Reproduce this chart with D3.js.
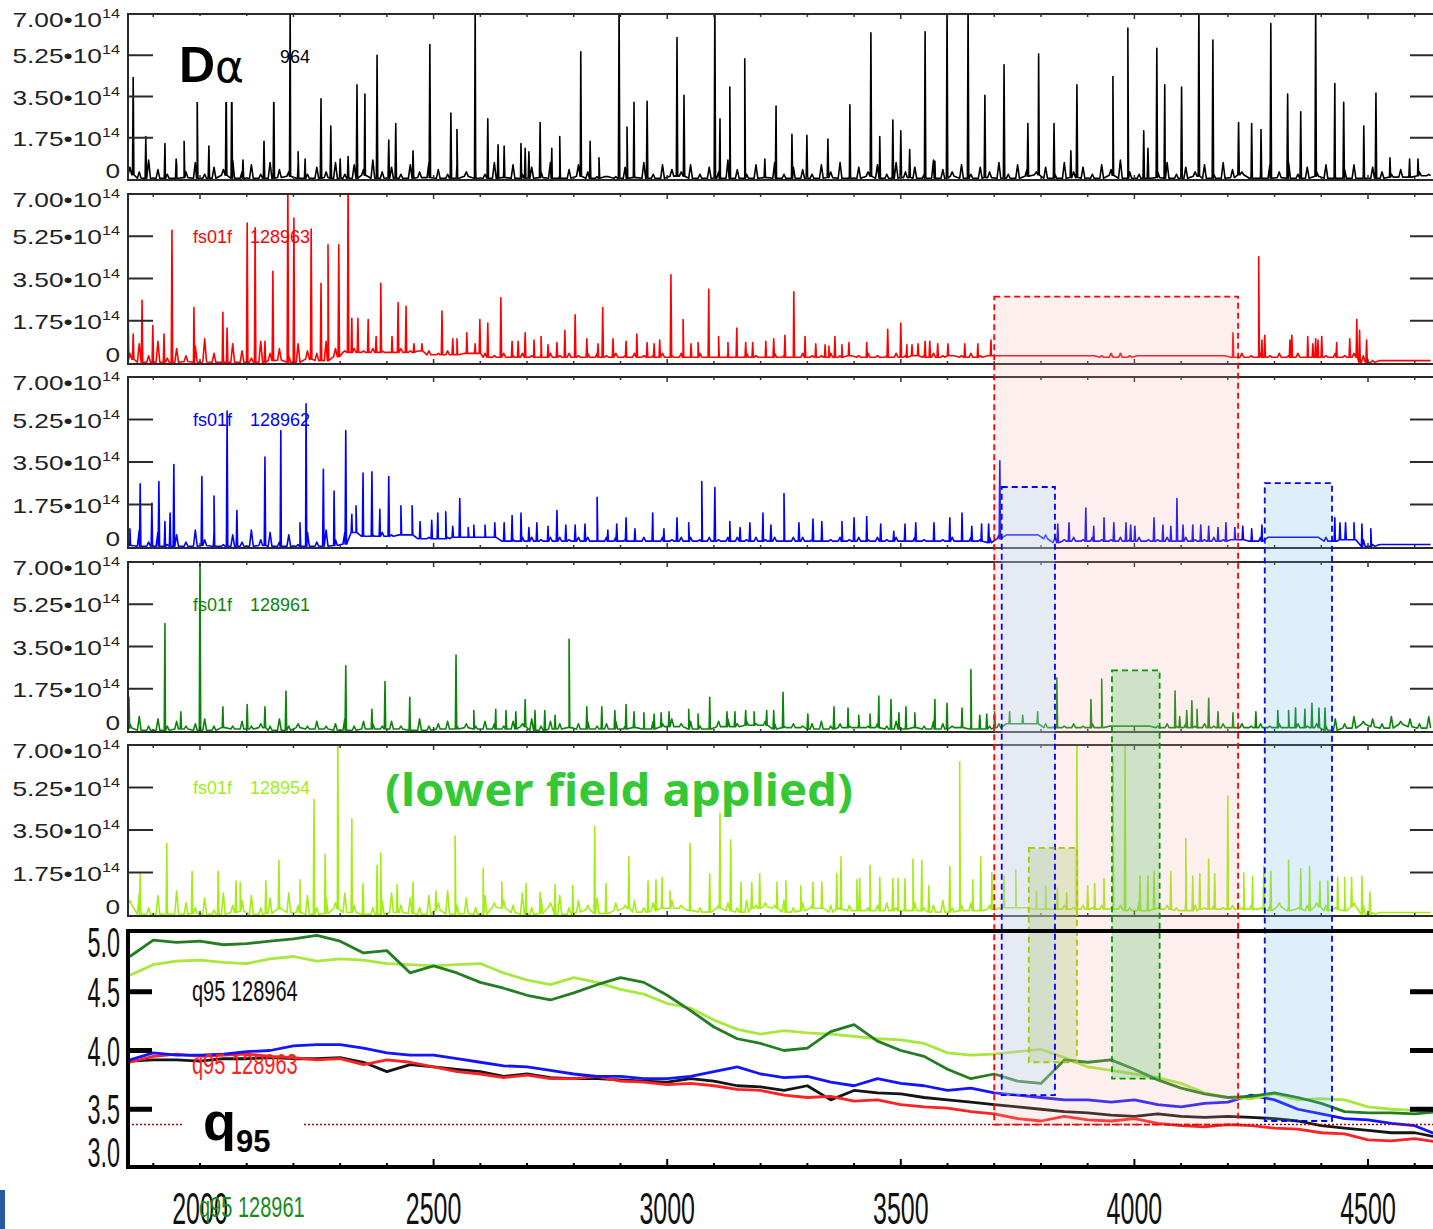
<!DOCTYPE html>
<html>
<head>
<meta charset="utf-8">
<script src="https://cdn.jsdelivr.net/npm/d3@7/dist/d3.min.js"></script>
<style>
body { margin: 0; background: #fff; }
svg { display: block; }
</style>
</head>
<body>
<svg id="chart" width="1433" height="1229"></svg>
<script>
// ---- data ----
// noise floor, tenths of 1e14, one value every 20 ms from 1850 ms
var noiseStart = 1850, noiseStep = 20;
var noiseBlack = [5,3,8,4,2,6,3,7,2,5,4,8,3,6,2,7,4,3,6,2,
                  5,3,7,2,6,4,8,3,5,2,6,3,7,4,2,6,3,5,2,7,
                  3,6,2,5,3,7,2,4,6,3,1,1,1,5,3,7,2,6,4,3,
                  6,2,5,3,8,4,2,6,3,7,2,5,4,2,6,3,7,2,5,3,
                  6,2,7,3,5,2,8,4,3,6,2,5,3,7,2,6,4,3,5,2,
                  7,3,5,2,6,4,8,3,2,6,3,7,2,5,3,6,2,7,4,3,
                  5,2,6,3,7,2,5,3,6,2,4,6,2,5,3,2,4,2,3,2];
var noiseRed = [4,8,3,9,2,6,3,7,10,4,3,8,5,2,9,4,6,3,8,5,
                4,9,6,5,6,5,6,5,5,6,5,5,5,4,5,4,4,4,4,3,
                4,3,4,3,4,4,3,4,3,4,4,3,4,3,4,3,3,4,3,4,
                3,4,3,3,4,3,4,3,3,4,3,3,4,3,3,4,3,3,3,4,
                3,3,4,3,3,3,4,3,3,3,4,3,3,3,3,3,3,3,3,3,
                3,3,3,3,3,4,4,3,3,3,3,3,3,3,3,3,3,3,3,4,
                3,4,3,4,3,4,3,4,3,4,3,4,3,1,1,1,1,1,1,1];
var noiseBlue = [3,7,2,6,1,5,2,7,3,6,1,5,2,7,3,6,2,5,1,6,
                 2,7,3,6,6,6,5,6,5,5,5,5,4,5,4,4,4,4,4,4,
                 4,3,4,4,3,4,4,3,4,4,3,4,4,3,4,4,3,4,3,4,
                 4,3,4,3,4,4,3,4,3,4,3,4,4,3,4,3,4,3,4,3,
                 4,3,4,3,4,3,4,3,4,3,4,3,4,5,5,5,5,5,5,4,
                 3,4,3,4,3,3,4,3,4,3,3,4,3,4,3,3,4,3,3,3,
                 3,4,4,4,4,4,4,4,4,3,3,3,3,1,1,1,1,1,1,1];
var noiseGreen = [3,6,2,5,2,4,2,3,5,2,3,2,4,2,3,2,5,2,3,2,
                  4,2,3,5,2,4,3,2,4,2,3,5,2,3,4,2,3,2,4,3,
                  2,4,3,5,2,4,3,2,3,4,2,3,4,2,3,2,4,3,5,3,
                  4,2,3,4,5,3,4,3,4,3,2,3,2,3,4,2,3,2,3,2,
                  3,2,4,2,3,2,4,3,2,3,2,4,2,3,3,3,3,3,3,2,
                  2,3,2,3,2,2,2,2,2,2,2,3,2,3,2,3,2,3,2,3,
                  2,3,2,3,2,3,2,3,2,5,3,6,4,5,3,6,4,5,3,6];
var noiseLime = [6,9,3,8,4,10,5,3,7,2,9,4,6,8,3,7,5,9,4,8,
                 3,7,5,9,4,8,3,6,9,4,7,3,8,5,10,4,7,3,8,5,
                 6,4,9,3,7,5,8,3,6,4,7,3,5,4,6,3,5,4,6,4,
                 5,3,6,4,5,3,6,4,5,4,6,3,5,4,6,4,3,4,5,3,
                 4,5,3,4,5,3,4,6,3,4,5,3,4,3,3,3,3,3,4,3,
                 4,3,4,3,4,3,4,3,5,4,3,4,3,5,4,3,4,3,4,3,
                 4,3,4,5,4,3,4,5,4,3,4,5,4,1,1,1,1,1,1,1];

// ELM spikes [time ms, peak 1e14]
var spikesBlack = [[1857,4.3],[1884,1.8],[1925,1.5],[1949,0.85],[1966,1.6],[1994,3.6],[2019,1.4],[2056,4.2],
  [2068,4.4],[2092,0.8],[2137,1.6],[2158,3.8],[2193,7.5],[2210,1.15],[2225,0.85],[2259,3.4],[2280,2.25],
  [2300,0.85],[2317,0.95],[2336,4.0],[2353,3.6],[2379,5.25],[2404,1.65],[2419,2.35],[2456,1.2],[2492,5.7],
  [2537,2.8],[2550,2.1],[2589,7.5],[2616,2.55],[2638,1.45],[2651,1.4],[2687,1.5],[2696,1.3],[2704,1.15],
  [2728,2.4],[2753,1.3],[2770,1.8],[2815,5.4],[2835,1.6],[2854,0.9],[2897,7.5],[2914,2.2],[2929,3.25],
  [2957,3.3],[3021,6.0],[3036,3.55],[3102,7.5],[3113,2.55],[3134,3.9],[3166,5.1],[3209,0.85],[3233,3.1],
  [3267,1.9],[3299,1.85],[3344,1.7],[3391,3.15],[3436,6.2],[3455,1.8],[3483,2.5],[3500,2.05],[3519,1.25],
  [3552,6.25],[3573,0.75],[3599,7.5],[3644,7.5],[3680,3.55],[3721,4.85],[3772,2.35],[3795,5.3],[3828,2.35],
  [3864,1.2],[3877,4.0],[3954,4.35],[3986,6.4],[4020,2.05],[4029,1.3],[4048,5.55],[4065,4.0],[4101,3.9],
  [4138,7.5],[4168,5.9],[4223,2.4],[4251,2.35],[4271,2.1],[4292,6.6],[4328,3.6],[4356,2.85],[4388,7.5],
  [4429,4.05],[4448,3.25],[4491,2.25],[4517,3.65],[4547,0.9],[4589,0.85],[4607,0.85]];
var spikesRed = [[1846,2.7],[1857,1.2],[1876,2.6],[1899,1.55],[1923,1.2],[1940,5.5],[1987,2.3],[2049,2.1],
  [2058,1.45],[2101,5.8],[2118,5.6],[2139,0.9],[2156,3.8],[2188,7.5],[2201,6.0],[2238,5.55],[2259,3.3],
  [2274,4.9],[2297,4.9],[2317,7.5],[2325,1.85],[2338,1.85],[2360,1.8],[2377,1.1],[2387,3.3],[2411,1.1],
  [2424,2.5],[2441,2.35],[2458,0.8],[2475,0.8],[2518,2.15],[2541,1.0],[2550,1.0],[2571,1.25],[2589,0.8],
  [2599,1.8],[2616,1.65],[2644,2.7],[2668,0.9],[2681,0.9],[2696,1.25],[2715,0.95],[2730,1.1],[2745,0.75],
  [2764,0.85],[2781,1.35],[2803,2.0],[2828,1.0],[2852,0.8],[2862,2.3],[2884,1.0],[2912,0.9],[2935,1.2],
  [2957,0.85],[2972,0.8],[2984,0.95],[3008,3.65],[3034,1.8],[3051,0.8],[3066,0.85],[3089,3.05],[3110,1.1],
  [3130,0.85],[3149,1.45],[3168,0.85],[3183,0.85],[3211,0.9],[3228,1.0],[3252,1.15],[3271,2.95],[3295,1.1],
  [3318,0.8],[3338,0.75],[3346,0.7],[3359,1.1],[3374,0.75],[3389,0.85],[3427,0.85],[3472,1.4],[3500,1.65],
  [3513,0.75],[3524,0.75],[3537,0.8],[3552,0.9],[3562,0.9],[3579,0.8],[3601,0.8],[3637,0.8],[3665,0.8],
  [3693,0.95],[4211,1.25],[4266,4.4],[4273,0.95],[4279,1.15],[4333,0.95],[4337,1.15],[4371,1.1],[4382,0.8],
  [4388,1.0],[4393,0.95],[4401,1.1],[4433,0.85],[4461,1.0],[4476,1.8],[4482,1.35],[4497,0.95]];
var spikesBlue = [[1844,3.6],[1850,0.75],[1872,2.6],[1897,1.8],[1912,2.7],[1925,1.05],[1936,1.4],[1944,3.4],
  [2004,2.9],[2030,2.1],[2058,5.6],[2079,1.5],[2139,3.7],[2173,4.8],[2214,1.0],[2227,5.9],[2264,3.2],
  [2287,2.3],[2312,4.8],[2325,1.35],[2334,1.7],[2349,3.05],[2368,3.1],[2385,1.55],[2404,2.9],[2430,1.7],
  [2454,1.7],[2471,1.05],[2496,1.1],[2509,1.4],[2526,1.45],[2541,0.85],[2556,2.0],[2574,0.8],[2586,0.9],
  [2610,0.9],[2631,1.0],[2651,1.0],[2668,1.3],[2687,1.4],[2704,0.8],[2721,1.0],[2745,0.85],[2764,1.5],
  [2783,0.9],[2803,0.9],[2824,0.95],[2850,2.05],[2873,0.7],[2892,0.95],[2912,1.2],[2931,0.75],[2969,1.4],
  [2993,0.75],[3021,1.2],[3046,1.0],[3074,2.7],[3102,2.45],[3134,1.05],[3156,0.8],[3177,1.0],[3205,1.4],
  [3222,0.9],[3250,2.2],[3282,1.0],[3312,1.15],[3331,1.05],[3374,1.05],[3400,1.2],[3427,1.25],[3457,0.95],
  [3485,0.65],[3509,0.95],[3532,1.0],[3571,1.0],[3605,1.2],[3631,1.4],[3652,0.85],[3673,0.95],[3688,0.95],
  [3712,3.55],[3836,0.95],[3860,1.0],[3896,1.6],[3913,0.85],[3935,1.2],[3956,1.0],[3982,1.0],[3992,0.9],
  [4001,0.85],[4042,1.2],[4061,0.9],[4078,0.85],[4091,2.0],[4104,0.9],[4125,0.9],[4142,0.9],[4159,0.85],
  [4179,0.8],[4196,1.0],[4215,0.8],[4232,0.85],[4251,0.75],[4273,0.9],[4429,1.2],[4440,1.0],[4452,1.0],
  [4470,1.0],[4487,0.95],[4506,0.75]];
var spikesGreen = [[1848,1.4],[1925,4.45],[1959,0.8],[2000,7.5],[2049,1.0],[2101,1.1],[2139,1.0],[2184,1.65],
  [2312,2.7],[2368,0.9],[2396,2.05],[2449,1.4],[2548,3.15],[2586,0.85],[2633,0.9],[2655,0.85],[2676,0.8],
  [2696,1.3],[2717,0.85],[2738,0.85],[2760,0.65],[2790,3.8],[2828,1.0],[2860,1.0],[2888,0.85],[2912,1.1],
  [2929,0.8],[2950,0.75],[2972,0.7],[2987,0.75],[3004,0.8],[3046,0.9],[3066,0.7],[3091,1.4],[3128,0.8],
  [3145,0.8],[3168,0.85],[3186,0.8],[3213,0.85],[3228,0.85],[3248,1.6],[3301,0.7],[3357,1.0],[3387,0.95],
  [3410,0.65],[3434,0.7],[3453,1.45],[3479,1.3],[3496,0.75],[3511,1.0],[3530,0.75],[3573,1.3],[3599,1.15],
  [3631,0.95],[3650,2.55],[3669,0.65],[3684,0.7],[3701,0.8],[3733,0.8],[3761,0.65],[3793,0.8],[3834,2.2],
  [3907,1.3],[3930,2.15],[4087,1.65],[4097,0.6],[4112,0.85],[4123,1.25],[4134,0.9],[4159,1.35],[4179,0.8],
  [4211,0.75],[4260,0.8],[4307,0.85],[4330,0.85],[4345,0.95],[4365,0.9],[4380,1.15],[4395,0.95],[4408,0.95]];
var spikesLime = [[1844,1.35],[1872,1.75],[1929,2.95],[1983,1.8],[2039,1.8],[2077,1.4],[2086,1.35],[2141,1.4],
  [2169,2.25],[2214,1.45],[2244,4.75],[2268,2.5],[2295,7.5],[2325,3.95],[2349,1.3],[2379,2.05],[2387,2.55],
  [2422,1.25],[2456,1.35],[2505,1.0],[2546,3.25],[2606,1.9],[2646,1.35],[2698,1.3],[2728,0.95],[2760,1.25],
  [2798,1.2],[2845,3.65],[2869,1.3],[2918,2.4],[2959,1.4],[2976,1.45],[2989,1.55],[3006,1.0],[3049,2.95],
  [3091,1.7],[3113,4.2],[3136,3.1],[3158,1.35],[3181,1.35],[3198,1.7],[3235,1.35],[3254,1.4],[3286,1.2],
  [3312,1.35],[3331,1.35],[3363,1.7],[3372,2.4],[3406,1.45],[3412,1.5],[3434,2.05],[3455,1.55],[3483,1.5],
  [3494,1.5],[3509,1.5],[3526,2.3],[3545,2.25],[3560,1.2],[3605,2.0],[3626,6.3],[3654,1.45],[3671,2.4],
  [3695,1.75],[3721,1.6],[3746,1.85],[3790,1.0],[3810,1.2],[3835,1.1],[3855,0.9],[3877,7.5],[3900,1.2],
  [3915,1.3],[3935,1.5],[3954,6.5],[3980,7.0],[4012,1.6],[4029,1.6],[4042,1.8],[4078,1.8],[4110,3.15],
  [4125,1.6],[4140,1.7],[4159,2.3],[4172,1.7],[4200,4.9],[4234,1.75],[4253,1.6],[4277,2.0],[4292,1.8],
  [4330,2.25],[4356,1.9],[4375,2.0],[4397,1.4],[4414,1.4],[4435,1.55],[4450,1.55],[4465,1.55],[4487,1.6],
  [4504,0.95]];

var panelShots = ['128964', '128963', '128962', '128961', '128954'];
var panelColors = ['#000000', '#ff0000', '#0000ff', '#0b840b', '#a2ee14'];
var yTicks = [0, 1.75, 3.5, 5.25, 7];

// q95 traces, one value every 50 ms from 1850 ms
var qTimes = d3.range(1850, 4651, 50);
var q95_128961 = [4.80,4.94,4.92,4.93,4.90,4.91,4.93,4.95,4.98,4.93,4.83,4.85,4.66,4.72,4.66,4.58,4.53,4.47,4.43,
  4.49,4.56,4.62,4.58,4.47,4.34,4.20,4.10,4.06,4.00,4.02,4.16,4.22,4.08,4.00,3.95,3.84,3.76,3.80,3.74,3.72,
  3.92,3.90,3.92,3.84,3.75,3.68,3.63,3.60,3.61,3.64,3.60,3.55,3.48,3.47,3.47,3.46,3.48];
var q95_128954 = [4.64,4.73,4.76,4.77,4.75,4.74,4.78,4.80,4.76,4.78,4.77,4.74,4.73,4.72,4.73,4.74,4.66,4.60,4.56,
  4.62,4.58,4.52,4.48,4.40,4.36,4.26,4.18,4.14,4.17,4.15,4.14,4.12,4.10,4.09,4.06,3.98,3.96,3.97,3.99,4.01,
  3.94,3.86,3.83,3.80,3.77,3.72,3.64,3.60,3.59,3.63,3.58,3.59,3.58,3.52,3.50,3.49,3.50];
var q95_128962 = [3.92,3.98,3.96,3.96,3.97,3.99,4.00,4.04,4.05,4.05,4.02,3.98,3.96,3.96,3.93,3.90,3.87,3.86,3.83,
  3.80,3.78,3.78,3.76,3.76,3.78,3.82,3.86,3.80,3.77,3.78,3.73,3.70,3.76,3.72,3.70,3.66,3.68,3.64,3.62,3.60,
  3.58,3.58,3.56,3.58,3.54,3.52,3.55,3.56,3.62,3.58,3.50,3.46,3.42,3.41,3.38,3.36,3.28];
var q95_128963 = [3.90,3.95,3.97,3.95,3.96,3.97,3.95,3.94,3.92,3.93,3.88,3.92,3.90,3.86,3.82,3.80,3.77,3.79,3.76,
  3.76,3.78,3.74,3.73,3.71,3.72,3.70,3.67,3.66,3.62,3.60,3.61,3.57,3.58,3.54,3.52,3.51,3.48,3.46,3.42,3.40,
  3.44,3.41,3.40,3.42,3.38,3.36,3.35,3.37,3.36,3.34,3.33,3.30,3.29,3.24,3.23,3.25,3.22];
var q95_128964 = [3.91,3.92,3.92,3.91,3.93,3.93,3.94,3.93,3.93,3.94,3.90,3.82,3.88,3.86,3.84,3.82,3.78,3.80,3.77,
  3.76,3.76,3.75,3.74,3.73,3.76,3.74,3.70,3.69,3.66,3.70,3.58,3.66,3.64,3.63,3.60,3.58,3.56,3.54,3.52,3.50,
  3.48,3.47,3.45,3.44,3.46,3.44,3.43,3.44,3.43,3.42,3.40,3.36,3.34,3.32,3.30,3.30,3.26];
var qTicks = [3.0, 3.5, 4.0, 4.5, 5.0];
var qThreshold = 3.37;
var xTickLabels = [2000, 2500, 3000, 3500, 4000, 4500];

// highlighted windows: [t0, t1, panel of top edge, top value, q95 at bottom edge]
var windows = [
  {t0: 3700, t1: 4222, panel: 1, top: 2.75, bottom: 3.37, stroke: '#ff0000', fill: '#f4b0a8', op: 0.2},
  {t0: 3716, t1: 3830, panel: 2, top: 2.47, bottom: 3.62, stroke: '#0000ff', fill: '#a9dcff', op: 0.27},
  {t0: 4279, t1: 4423, panel: 2, top: 2.63, bottom: 3.40, stroke: '#0000ff', fill: '#6ab8ee', op: 0.22},
  {t0: 3952, t1: 4054, panel: 3, top: 2.51, bottom: 3.76, stroke: '#009900', fill: '#64c56e', op: 0.3},
  {t0: 3774, t1: 3877, panel: 4, top: 2.76, bottom: 3.90, stroke: '#a8c800', fill: '#a8c870', op: 0.3}
];

// ---- layout ----
var svg = d3.select('#chart');
var plotLeft = 128, plotRight = 1436;
var panelTops = [14, 194, 377, 562, 745];
var panelZeros = [179, 363, 547, 731, 915];
var qTop = 931, qBottom = 1167;

var x = d3.scaleLinear().domain([2000, 4500]).range([200, 1368]);
var qy = d3.scaleLinear().domain([3, 5]).range([1168, 933]);
var panelY = panelTops.map(function(top, i) {
    return d3.scaleLinear().domain([0, 7]).range([panelZeros[i], top]);
});

var defs = svg.append('defs');

//builds the trace: noise floor drawn as a comb of small bumps, plus narrow spikes
function buildTrace(noise, spikes) {
    var n = noise.length;
    var lows = noise.map(function(v, i) {
        var nb = [noise[Math.max(0, i - 1)], v, noise[Math.min(n - 1, i + 1)]];
        var lo = d3.min(nb), hi = d3.max(nb);
        return Math.max(0.3, lo - 0.6 * (hi - lo)) / 10;
    });
    var pts = [];
    noise.forEach(function(v, i) {
        var t = noiseStart + i * noiseStep;
        pts.push([t - 4, lows[i]], [t, v / 10], [t + 4, lows[i]]);
    });
    spikes.forEach(function(s) {
        var k = Math.max(0, Math.min(n - 1, Math.round((s[0] - noiseStart) / noiseStep)));
        var base = lows[k];
        pts.push([s[0] - 1.5, base], [s[0], s[1]], [s[0] + 1.5, base]);
    });
    pts.sort(function(a, b) { return a[0] - b[0]; });
    return pts;
}

var traces = [
    buildTrace(noiseBlack, spikesBlack),
    buildTrace(noiseRed, spikesRed),
    buildTrace(noiseBlue, spikesBlue),
    buildTrace(noiseGreen, spikesGreen),
    buildTrace(noiseLime, spikesLime)
];

var minorTicks = d3.range(1900, 4601, 100);

traces.forEach(function(trace, i) {
    var y = panelY[i];
    var top = panelTops[i], zero = panelZeros[i];
    defs.append('clipPath').attr('id', 'clip' + i)
        .append('rect').attr('x', plotLeft).attr('y', top).attr('width', plotRight - plotLeft).attr('height', zero - top + 2);

    var g = svg.append('g');
    g.append('path')
        .datum(trace)
        .attr('clip-path', 'url(#clip' + i + ')')
        .attr('fill', 'none')
        .attr('stroke', panelColors[i])
        .attr('stroke-width', 1.6)
        .attr('stroke-linejoin', 'round')
        .attr('d', d3.line().x(function(d) { return x(d[0]); }).y(function(d) { return y(d[1]); }));

    // frame
    g.append('rect')
        .attr('x', plotLeft).attr('y', top)
        .attr('width', plotRight - plotLeft).attr('height', zero - top + 1)
        .attr('fill', 'none').attr('stroke', '#2a2a2a').attr('stroke-width', 2);

    // x minor ticks top and bottom
    minorTicks.forEach(function(t) {
        var len = (t % 500 == 0) ? 5 : 3;
        g.append('line').attr('x1', x(t)).attr('x2', x(t)).attr('y1', top).attr('y2', top + len)
            .attr('stroke', '#333').attr('stroke-width', 1.5);
        g.append('line').attr('x1', x(t)).attr('x2', x(t)).attr('y1', zero + 1).attr('y2', zero + 1 - len)
            .attr('stroke', '#333').attr('stroke-width', 1.5);
    });

    // y ticks and labels
    yTicks.forEach(function(v) {
        if(v > 0 && v < 7) {
            g.append('line').attr('x1', plotLeft).attr('x2', plotLeft + 25).attr('y1', y(v)).attr('y2', y(v))
                .attr('stroke', '#2a2a2a').attr('stroke-width', 2);
            g.append('line').attr('x1', plotRight - 26).attr('x2', plotRight).attr('y1', y(v)).attr('y2', y(v))
                .attr('stroke', '#2a2a2a').attr('stroke-width', 2);
        }
        var ly = y(v) + (v == 7 ? 13 : 8);
        if(v == 0) ly = y(v) - 1;
        var txt = g.append('text')
            .attr('transform', 'translate(120,' + ly + ') scale(1.25,1)')
            .attr('text-anchor', 'end')
            .attr('font-family', 'Liberation Sans, Arial, sans-serif')
            .attr('font-size', 21)
            .attr('fill', '#222');
        if(v == 0) {
            txt.text('0');
        } else {
            txt.append('tspan').text(v.toFixed(2) + '\u202210');
            txt.append('tspan').attr('dy', -9).attr('font-size', 13).text('14');
        }
    });
});

// ---- q95 panel ----
defs.append('clipPath').attr('id', 'clipq')
    .append('rect').attr('x', plotLeft).attr('y', qTop).attr('width', plotRight - plotLeft).attr('height', qBottom - qTop);

var qSeries = [
    {vals: q95_128964, color: '#151515'},
    {vals: q95_128963, color: '#ff2222'},
    {vals: q95_128962, color: '#1414ff'},
    {vals: q95_128954, color: '#a8e83c'},
    {vals: q95_128961, color: '#237d23'}
];
var qLine = d3.line().x(function(d) { return x(d[0]); }).y(function(d) { return qy(d[1]); });
var qg = svg.append('g');
qSeries.forEach(function(s) {
    qg.append('path')
        .datum(qTimes.map(function(t, i) { return [t, s.vals[i]]; }))
        .attr('clip-path', 'url(#clipq)')
        .attr('fill', 'none')
        .attr('stroke', s.color)
        .attr('stroke-width', 2.8)
        .attr('stroke-linejoin', 'round')
        .attr('d', qLine);
});

// threshold line
qg.append('line')
    .attr('x1', plotLeft).attr('x2', plotRight)
    .attr('y1', qy(qThreshold)).attr('y2', qy(qThreshold))
    .attr('stroke', '#b00000').attr('stroke-width', 1.5).attr('stroke-dasharray', '2,2');

// ---- highlighted windows ----
var wg = svg.append('g');
windows.forEach(function(w) {
    var x0 = x(w.t0), x1 = x(w.t1);
    var y0 = panelY[w.panel](w.top), y1 = qy(w.bottom);
    wg.append('rect').attr('x', x0).attr('y', y0).attr('width', x1 - x0).attr('height', y1 - y0)
        .attr('fill', w.fill).attr('fill-opacity', w.op);
});
windows.forEach(function(w) {
    var x0 = x(w.t0), x1 = x(w.t1);
    var y0 = panelY[w.panel](w.top), y1 = qy(w.bottom);
    wg.append('rect').attr('x', x0).attr('y', y0).attr('width', x1 - x0).attr('height', y1 - y0)
        .attr('fill', 'none').attr('stroke', w.stroke).attr('stroke-width', 1.8).attr('stroke-dasharray', '6,4');
});

// q95 frame, ticks and labels
qg = svg.append('g');
qg.append('rect').attr('x', plotLeft).attr('y', qTop).attr('width', plotRight - plotLeft).attr('height', qBottom - qTop)
    .attr('fill', 'none').attr('stroke', '#000').attr('stroke-width', 4);
qTicks.forEach(function(v) {
    if(v > 3 && v < 5) {
        qg.append('line').attr('x1', plotLeft).attr('x2', plotLeft + 24).attr('y1', qy(v)).attr('y2', qy(v))
            .attr('stroke', '#000').attr('stroke-width', 5);
        qg.append('line').attr('x1', plotRight - 26).attr('x2', plotRight).attr('y1', qy(v)).attr('y2', qy(v))
            .attr('stroke', '#000').attr('stroke-width', 5);
    }
    var ly = Math.max(957, Math.min(1167, qy(v) + 15));
    qg.append('text')
        .attr('transform', 'translate(120,' + ly + ') scale(0.9,1.6)')
        .attr('text-anchor', 'end')
        .attr('font-family', 'Liberation Sans, Arial, sans-serif')
        .attr('font-size', 26)
        .attr('fill', '#111')
        .text(v.toFixed(1));
});
minorTicks.forEach(function(t) {
    qg.append('line').attr('x1', x(t)).attr('x2', x(t)).attr('y1', qBottom).attr('y2', qBottom - (t % 500 == 0 ? 8 : 4))
        .attr('stroke', '#000').attr('stroke-width', 2);
});
xTickLabels.forEach(function(t) {
    qg.append('text')
        .attr('transform', 'translate(' + x(t) + ',1224) scale(1,1.75)')
        .attr('text-anchor', 'middle')
        .attr('font-family', 'Liberation Sans, Arial, sans-serif')
        .attr('font-size', 25)
        .attr('fill', '#111')
        .text(t);
});

// q95 shot labels
function narrowLabel(txt, px, py, color) {
    svg.append('text')
        .attr('transform', 'translate(' + px + ',' + py + ') scale(1,1.5)')
        .attr('font-family', 'Liberation Sans, Arial, sans-serif')
        .attr('font-size', 20)
        .attr('fill', color)
        .text(txt);
}
narrowLabel('q95  128964', 192, 1001, '#111');
narrowLabel('q95  128963', 192, 1074, '#ff2020');
narrowLabel('q95  128961', 199, 1217, '#1a8a1a');

// ---- panel labels ----
panelShots.forEach(function(shot, i) {
    var ly = panelTops[i] + 49;
    svg.append('text').attr('x', 193).attr('y', ly)
        .attr('font-family', 'Liberation Sans, Arial, sans-serif').attr('font-size', 18)
        .attr('fill', panelColors[i]).text('fs01f');
    svg.append('text').attr('x', 250).attr('y', ly)
        .attr('font-family', 'Liberation Sans, Arial, sans-serif').attr('font-size', 18)
        .attr('fill', panelColors[i]).text(shot);
});

// D-alpha title box
svg.append('rect').attr('x', 156).attr('y', 16).attr('width', 124).attr('height', 86).attr('fill', '#fff');
var da = svg.append('text').attr('x', 179).attr('y', 82).attr('fill', '#000');
da.append('tspan').attr('font-family', 'Liberation Sans, Arial, sans-serif').attr('font-weight', 'bold')
    .attr('font-size', 50).text('D');
da.append('tspan').attr('font-family', 'DejaVu Sans, sans-serif').attr('font-size', 44).text('\u03b1');

// q95 title box
svg.append('rect').attr('x', 183).attr('y', 1097).attr('width', 119).attr('height', 66).attr('fill', '#fff');
var qt = svg.append('text').attr('x', 203).attr('y', 1140).attr('fill', '#000')
    .attr('font-family', 'Liberation Sans, Arial, sans-serif').attr('font-weight', 'bold');
qt.append('tspan').attr('font-size', 54).text('q');
qt.append('tspan').attr('font-size', 31).attr('dy', 12).text('95');

// annotation
svg.append('text').attr('x', 385).attr('y', 806)
    .attr('font-family', 'Noto Sans, Lato, sans-serif').attr('font-weight', 'bold')
    .attr('font-size', 44).attr('fill', '#35c835')
    .attr('textLength', 468).attr('lengthAdjust', 'spacingAndGlyphs')
    .text('(lower field applied)');

// cut-off logo at the lower left
svg.append('rect').attr('x', 0).attr('y', 1190).attr('width', 5).attr('height', 39).attr('fill', '#2a5aa0');
</script>
</body>
</html>
